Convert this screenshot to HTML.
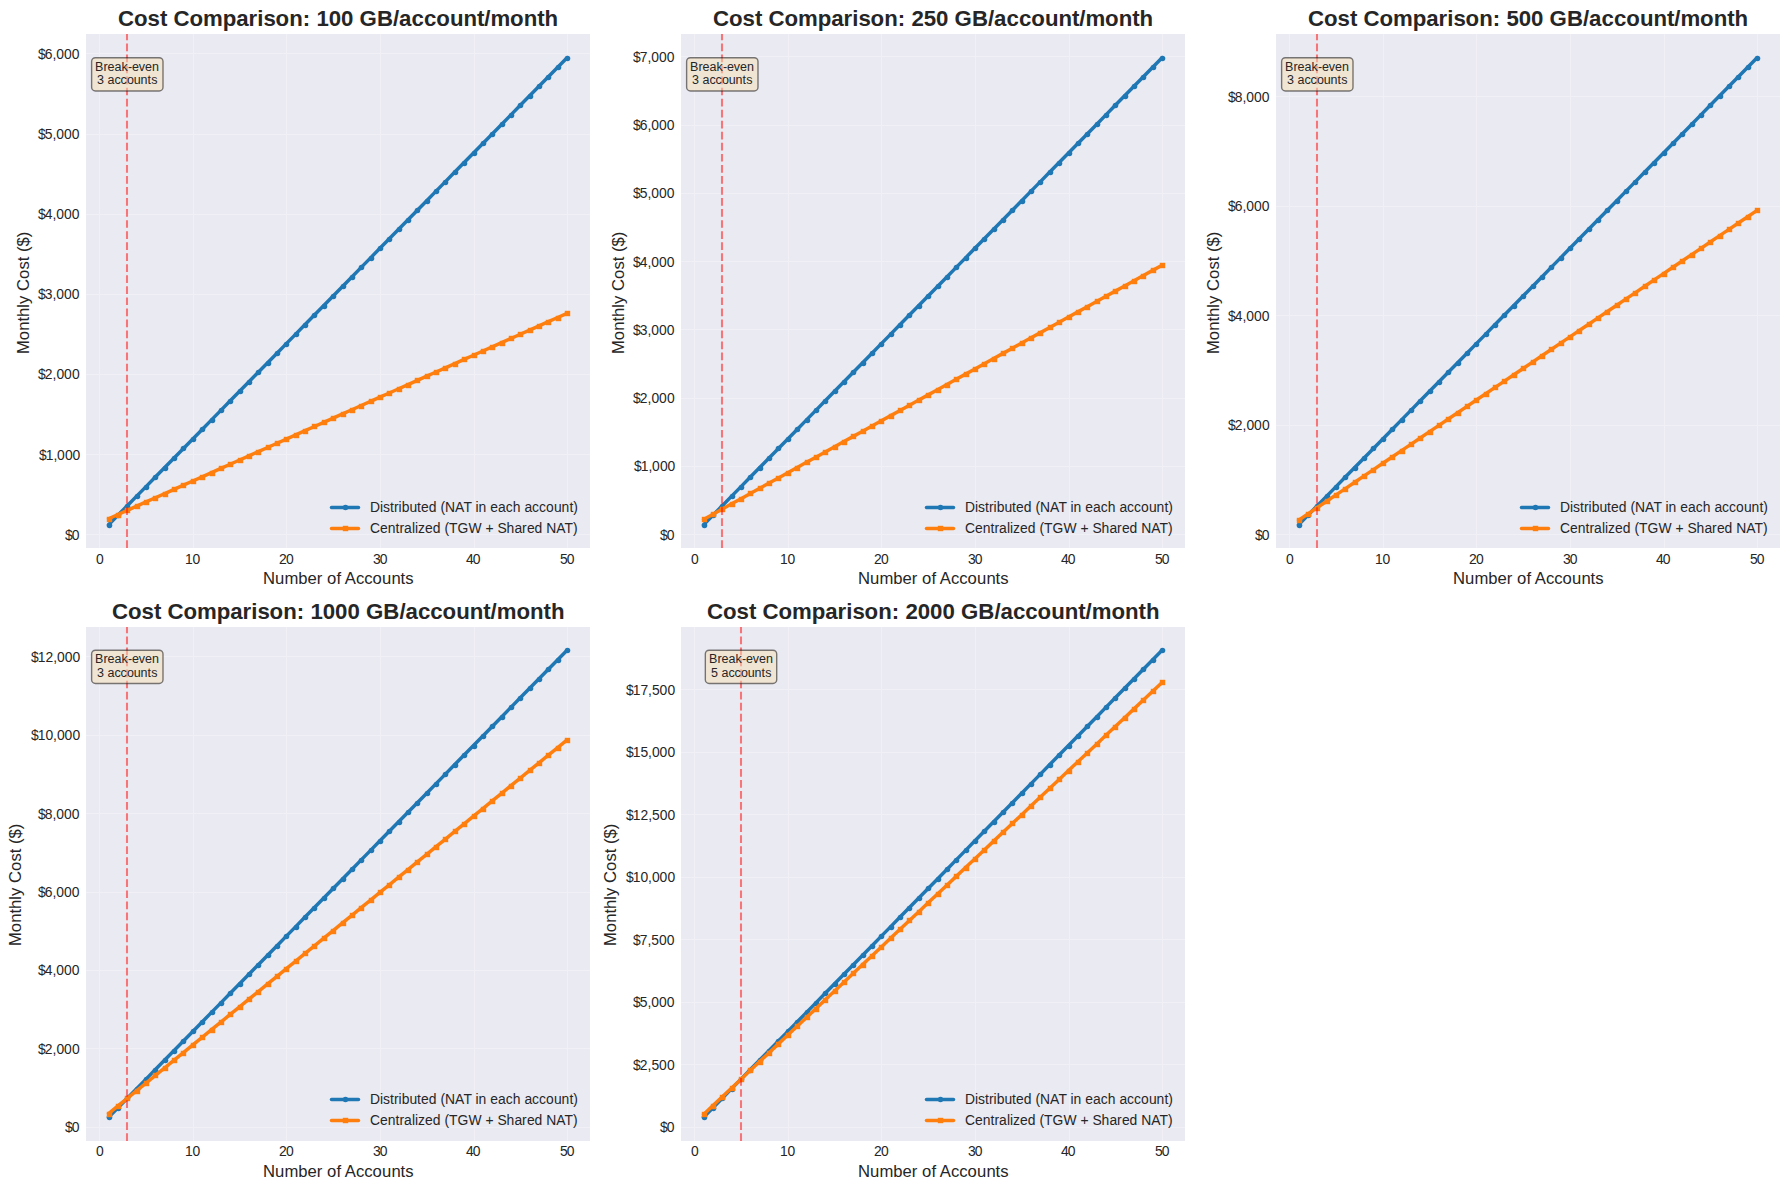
<!DOCTYPE html>
<html lang="en"><head><meta charset="utf-8"><title>Cost Comparison</title>
<style>
html,body{margin:0;padding:0;background:#fff}
body{width:1790px;height:1190px;overflow:hidden}
svg{display:block;font-family:"Liberation Sans",Arial,sans-serif}
svg text{white-space:pre}
</style></head><body>
<svg width="1790" height="1190" viewBox="0 0 1790 1190">
<rect width="1790" height="1190" fill="#fff"/>
<g>
<rect x="86" y="34" width="504" height="514" fill="#eaeaf2"/>
<path d="M99.5 34V548M193.5 34V548M286.5 34V548M380.5 34V548M474.5 34V548M567.5 34V548M86 534.5H590M86 454.5H590M86 374.5H590M86 294.5H590M86 214.5H590M86 134.5H590M86 53.5H590" stroke="#fff" stroke-opacity="0.3" stroke-width="1.11" fill="none"/>
<polyline points="108.59,524.73 117.95,515.2 127.3,505.67 136.66,496.14 146.02,486.6 155.38,477.07 164.73,467.54 174.09,458.01 183.45,448.48 192.8,438.95 202.16,429.42 211.52,419.88 220.87,410.35 230.23,400.82 239.59,391.29 248.94,381.76 258.3,372.23 267.66,362.69 277.01,353.16 286.37,343.63 295.73,334.1 305.08,324.57 314.44,315.04 323.8,305.51 333.15,295.97 342.51,286.44 351.87,276.91 361.23,267.38 370.58,257.85 379.94,248.32 389.3,238.78 398.65,229.25 408.01,219.72 417.37,210.19 426.72,200.66 436.08,191.13 445.44,181.6 454.79,172.06 464.15,162.53 473.51,153 482.86,143.47 492.22,133.94 501.58,124.41 510.93,114.87 520.29,105.34 529.65,95.81 539.01,86.28 548.36,76.75 557.72,67.22 567.08,57.69" fill="none" stroke="#1f77b4" stroke-width="3.47" stroke-linecap="round" stroke-linejoin="round"/>
<g fill="#1f77b4"><circle cx="109.5" cy="525.5" r="2.78"/><circle cx="118.5" cy="515.5" r="2.78"/><circle cx="127.5" cy="506.5" r="2.78"/><circle cx="137.5" cy="496.5" r="2.78"/><circle cx="146.5" cy="487.5" r="2.78"/><circle cx="155.5" cy="477.5" r="2.78"/><circle cx="165.5" cy="468.5" r="2.78"/><circle cx="174.5" cy="458.5" r="2.78"/><circle cx="183.5" cy="448.5" r="2.78"/><circle cx="193.5" cy="439.5" r="2.78"/><circle cx="202.5" cy="429.5" r="2.78"/><circle cx="212.5" cy="420.5" r="2.78"/><circle cx="221.5" cy="410.5" r="2.78"/><circle cx="230.5" cy="401.5" r="2.78"/><circle cx="240.5" cy="391.5" r="2.78"/><circle cx="249.5" cy="382.5" r="2.78"/><circle cx="258.5" cy="372.5" r="2.78"/><circle cx="268.5" cy="363.5" r="2.78"/><circle cx="277.5" cy="353.5" r="2.78"/><circle cx="286.5" cy="344.5" r="2.78"/><circle cx="296.5" cy="334.5" r="2.78"/><circle cx="305.5" cy="325.5" r="2.78"/><circle cx="314.5" cy="315.5" r="2.78"/><circle cx="324.5" cy="306.5" r="2.78"/><circle cx="333.5" cy="296.5" r="2.78"/><circle cx="343.5" cy="286.5" r="2.78"/><circle cx="352.5" cy="277.5" r="2.78"/><circle cx="361.5" cy="267.5" r="2.78"/><circle cx="371.5" cy="258.5" r="2.78"/><circle cx="380.5" cy="248.5" r="2.78"/><circle cx="389.5" cy="239.5" r="2.78"/><circle cx="399.5" cy="229.5" r="2.78"/><circle cx="408.5" cy="220.5" r="2.78"/><circle cx="417.5" cy="210.5" r="2.78"/><circle cx="427.5" cy="201.5" r="2.78"/><circle cx="436.5" cy="191.5" r="2.78"/><circle cx="445.5" cy="182.5" r="2.78"/><circle cx="455.5" cy="172.5" r="2.78"/><circle cx="464.5" cy="163.5" r="2.78"/><circle cx="474.5" cy="153.5" r="2.78"/><circle cx="483.5" cy="143.5" r="2.78"/><circle cx="492.5" cy="134.5" r="2.78"/><circle cx="502.5" cy="124.5" r="2.78"/><circle cx="511.5" cy="115.5" r="2.78"/><circle cx="520.5" cy="105.5" r="2.78"/><circle cx="530.5" cy="96.5" r="2.78"/><circle cx="539.5" cy="86.5" r="2.78"/><circle cx="548.5" cy="77.5" r="2.78"/><circle cx="558.5" cy="67.5" r="2.78"/><circle cx="567.5" cy="58.5" r="2.78"/></g>
<polyline points="108.59,518.72 117.95,514.53 127.3,510.34 136.66,506.14 146.02,501.95 155.38,497.76 164.73,493.57 174.09,489.38 183.45,485.18 192.8,480.99 202.16,476.8 211.52,472.61 220.87,468.42 230.23,464.23 239.59,460.03 248.94,455.84 258.3,451.65 267.66,447.46 277.01,443.27 286.37,439.07 295.73,434.88 305.08,430.69 314.44,426.5 323.8,422.31 333.15,418.11 342.51,413.92 351.87,409.73 361.23,405.54 370.58,401.35 379.94,397.15 389.3,392.96 398.65,388.77 408.01,384.58 417.37,380.39 426.72,376.2 436.08,372 445.44,367.81 454.79,363.62 464.15,359.43 473.51,355.24 482.86,351.04 492.22,346.85 501.58,342.66 510.93,338.47 520.29,334.28 529.65,330.08 539.01,325.89 548.36,321.7 557.72,317.51 567.08,313.32" fill="none" stroke="#ff7f0e" stroke-width="3.47" stroke-linecap="round" stroke-linejoin="round"/>
<g fill="#ff7f0e"><rect x="106.8" y="516.8" width="5.4" height="5.4"/><rect x="115.8" y="512.8" width="5.4" height="5.4"/><rect x="124.8" y="507.8" width="5.4" height="5.4"/><rect x="134.8" y="503.8" width="5.4" height="5.4"/><rect x="143.8" y="499.8" width="5.4" height="5.4"/><rect x="152.8" y="495.8" width="5.4" height="5.4"/><rect x="162.8" y="491.8" width="5.4" height="5.4"/><rect x="171.8" y="486.8" width="5.4" height="5.4"/><rect x="180.8" y="482.8" width="5.4" height="5.4"/><rect x="190.8" y="478.8" width="5.4" height="5.4"/><rect x="199.8" y="474.8" width="5.4" height="5.4"/><rect x="209.8" y="470.8" width="5.4" height="5.4"/><rect x="218.8" y="465.8" width="5.4" height="5.4"/><rect x="227.8" y="461.8" width="5.4" height="5.4"/><rect x="237.8" y="457.8" width="5.4" height="5.4"/><rect x="246.8" y="453.8" width="5.4" height="5.4"/><rect x="255.8" y="449.8" width="5.4" height="5.4"/><rect x="265.8" y="444.8" width="5.4" height="5.4"/><rect x="274.8" y="440.8" width="5.4" height="5.4"/><rect x="283.8" y="436.8" width="5.4" height="5.4"/><rect x="293.8" y="432.8" width="5.4" height="5.4"/><rect x="302.8" y="428.8" width="5.4" height="5.4"/><rect x="311.8" y="423.8" width="5.4" height="5.4"/><rect x="321.8" y="419.8" width="5.4" height="5.4"/><rect x="330.8" y="415.8" width="5.4" height="5.4"/><rect x="340.8" y="411.8" width="5.4" height="5.4"/><rect x="349.8" y="407.8" width="5.4" height="5.4"/><rect x="358.8" y="403.8" width="5.4" height="5.4"/><rect x="368.8" y="398.8" width="5.4" height="5.4"/><rect x="377.8" y="394.8" width="5.4" height="5.4"/><rect x="386.8" y="390.8" width="5.4" height="5.4"/><rect x="396.8" y="386.8" width="5.4" height="5.4"/><rect x="405.8" y="382.8" width="5.4" height="5.4"/><rect x="414.8" y="377.8" width="5.4" height="5.4"/><rect x="424.8" y="373.8" width="5.4" height="5.4"/><rect x="433.8" y="369.8" width="5.4" height="5.4"/><rect x="442.8" y="365.8" width="5.4" height="5.4"/><rect x="452.8" y="361.8" width="5.4" height="5.4"/><rect x="461.8" y="356.8" width="5.4" height="5.4"/><rect x="471.8" y="352.8" width="5.4" height="5.4"/><rect x="480.8" y="348.8" width="5.4" height="5.4"/><rect x="489.8" y="344.8" width="5.4" height="5.4"/><rect x="499.8" y="340.8" width="5.4" height="5.4"/><rect x="508.8" y="335.8" width="5.4" height="5.4"/><rect x="517.8" y="331.8" width="5.4" height="5.4"/><rect x="527.8" y="327.8" width="5.4" height="5.4"/><rect x="536.8" y="323.8" width="5.4" height="5.4"/><rect x="545.8" y="319.8" width="5.4" height="5.4"/><rect x="555.8" y="315.8" width="5.4" height="5.4"/><rect x="564.8" y="310.8" width="5.4" height="5.4"/></g>
<path d="M127 548V34" stroke="#f00" stroke-opacity="0.5" stroke-width="2.08" stroke-dasharray="7.71 3.33" fill="none"/>
<g fill="#262626">
<text x="96" y="563.94" font-size="13.89">0</text>
<text x="185 192.62" y="563.94" font-size="13.89">10</text>
<text x="279 285.88" y="563.94" font-size="13.89">20</text>
<text x="373 379.75" y="563.94" font-size="13.89">30</text>
<text x="466 472.75" y="563.94" font-size="13.89">40</text>
<text x="560 566.75" y="563.94" font-size="13.89">50</text>
<text x="65 71.75" y="539.76" font-size="13.89">$0</text>
<text x="39 45.75 53.38 57.12 64.88 72.62" y="459.61" font-size="13.89">$1,000</text>
<text x="38 44.75 52.62 56.38 64.12 71.88" y="379.46" font-size="13.89">$2,000</text>
<text x="38 44.75 52.5 56.25 64 71.75" y="299.31" font-size="13.89">$3,000</text>
<text x="38 44.75 52.5 56.25 64 71.75" y="219.16" font-size="13.89">$4,000</text>
<text x="38 44.75 52.5 56.25 64 71.75" y="139.01" font-size="13.89">$5,000</text>
<text x="38 44.75 52.5 56.25 64 71.75" y="58.86" font-size="13.89">$6,000</text>
<text x="263 275 284.38 298.25 307.5 316.75 322.38 327 336.38 341 344.75 355.88 364.25 372.62 382 391.38 400.62 405.25" y="583.5" font-size="16.67">Number of Accounts</text>
<text transform="translate(28.63 354) rotate(-90)" x="0 13.88 23.25 32.5 37.12 46.38 50.12 58.5 63.12 75.12 84.5 92.75 97.38 102 107.62 116.88" font-size="16.67">Monthly Cost ($)</text>
<text x="118 134 147.62 159.88 167.25 173.38 189.38 203 222.75 236.25 248.62 257.25 263.38 275.62 289.25 302.75 310.25 316.38 328.75 341.12 353.5 359.62 376.88 393 399.12 411.5 423.88 436.25 449.88 463.38 476.88 484.25 490.38 510.12 523.75 537.25 544.62" y="26" font-size="22.22" font-weight="bold">Cost Comparison: 100 GB/account/month</text>
<text x="370 380 383.12 390 393.88 398.62 401.75 409.38 417.12 421 428.75 436.5 440.38 445.12 455.12 463.38 471.62 475.5 478.62 486.38 490.25 498 505.75 512.75 520.5 524.38 532.12 539.12 546.12 553.88 561.62 569.38 573.25" y="511.64" font-size="13.89">Distributed (NAT in each account)</text>
<text x="370 380 387.75 395.5 399.38 404.12 411.88 415 418.12 425 432.75 440.5 444.38 449.12 457.62 468.5 481.62 485.5 493.5 497.38 506.62 514.38 522.12 526.88 534.62 542.38 546.25 556.25 564.5 573" y="532.58" font-size="13.89">Centralized (TGW + Shared NAT)</text>
</g>
<path d="M331.5 507.5H358.5" stroke="#1f77b4" stroke-width="3.47" stroke-linecap="round" fill="none"/>
<circle cx="345.5" cy="507.5" r="2.78" fill="#1f77b4"/>
<path d="M331.5 528.5H358.5" stroke="#ff7f0e" stroke-width="3.47" stroke-linecap="round" fill="none"/>
<rect x="342.8" y="525.8" width="5.4" height="5.4" fill="#ff7f0e"/>
<rect x="91.62" y="57.68" width="71.38" height="33.3" rx="3.75" ry="3.75" fill="#f5deb3" fill-opacity="0.5" stroke="#000" stroke-opacity="0.5" stroke-width="1.39"/>
<text x="95 103.38 107.62 114.5 121.5 127.88 131.88 138.75 145 151.88" y="71" font-size="12.5" fill="#262626">Break-even</text>
<text x="97 103.88 107.38 114.38 120.62 126.88 133.75 140.62 147.62 151.25" y="84" font-size="12.5" fill="#262626">3 accounts</text>
</g>
<g>
<rect x="681" y="34" width="504" height="514" fill="#eaeaf2"/>
<path d="M694.5 34V548M788.5 34V548M881.5 34V548M975.5 34V548M1069.5 34V548M1162.5 34V548M681 534.5H1185M681 466.5H1185M681 398.5H1185M681 329.5H1185M681 261.5H1185M681 193.5H1185M681 125.5H1185M681 56.5H1185" stroke="#fff" stroke-opacity="0.3" stroke-width="1.11" fill="none"/>
<polyline points="703.59,524.73 712.95,515.2 722.3,505.67 731.66,496.14 741.02,486.6 750.38,477.07 759.73,467.54 769.09,458.01 778.45,448.48 787.8,438.95 797.16,429.42 806.52,419.88 815.87,410.35 825.23,400.82 834.59,391.29 843.94,381.76 853.3,372.23 862.66,362.69 872.01,353.16 881.37,343.63 890.73,334.1 900.08,324.57 909.44,315.04 918.8,305.51 928.15,295.97 937.51,286.44 946.87,276.91 956.23,267.38 965.58,257.85 974.94,248.32 984.3,238.78 993.65,229.25 1003.01,219.72 1012.37,210.19 1021.72,200.66 1031.08,191.13 1040.44,181.6 1049.79,172.06 1059.15,162.53 1068.51,153 1077.86,143.47 1087.22,133.94 1096.58,124.41 1105.93,114.87 1115.29,105.34 1124.65,95.81 1134.01,86.28 1143.36,76.75 1152.72,67.22 1162.08,57.69" fill="none" stroke="#1f77b4" stroke-width="3.47" stroke-linecap="round" stroke-linejoin="round"/>
<g fill="#1f77b4"><circle cx="704.5" cy="525.5" r="2.78"/><circle cx="713.5" cy="515.5" r="2.78"/><circle cx="722.5" cy="506.5" r="2.78"/><circle cx="732.5" cy="496.5" r="2.78"/><circle cx="741.5" cy="487.5" r="2.78"/><circle cx="750.5" cy="477.5" r="2.78"/><circle cx="760.5" cy="468.5" r="2.78"/><circle cx="769.5" cy="458.5" r="2.78"/><circle cx="778.5" cy="448.5" r="2.78"/><circle cx="788.5" cy="439.5" r="2.78"/><circle cx="797.5" cy="429.5" r="2.78"/><circle cx="807.5" cy="420.5" r="2.78"/><circle cx="816.5" cy="410.5" r="2.78"/><circle cx="825.5" cy="401.5" r="2.78"/><circle cx="835.5" cy="391.5" r="2.78"/><circle cx="844.5" cy="382.5" r="2.78"/><circle cx="853.5" cy="372.5" r="2.78"/><circle cx="863.5" cy="363.5" r="2.78"/><circle cx="872.5" cy="353.5" r="2.78"/><circle cx="881.5" cy="344.5" r="2.78"/><circle cx="891.5" cy="334.5" r="2.78"/><circle cx="900.5" cy="325.5" r="2.78"/><circle cx="909.5" cy="315.5" r="2.78"/><circle cx="919.5" cy="306.5" r="2.78"/><circle cx="928.5" cy="296.5" r="2.78"/><circle cx="938.5" cy="286.5" r="2.78"/><circle cx="947.5" cy="277.5" r="2.78"/><circle cx="956.5" cy="267.5" r="2.78"/><circle cx="966.5" cy="258.5" r="2.78"/><circle cx="975.5" cy="248.5" r="2.78"/><circle cx="984.5" cy="239.5" r="2.78"/><circle cx="994.5" cy="229.5" r="2.78"/><circle cx="1003.5" cy="220.5" r="2.78"/><circle cx="1012.5" cy="210.5" r="2.78"/><circle cx="1022.5" cy="201.5" r="2.78"/><circle cx="1031.5" cy="191.5" r="2.78"/><circle cx="1040.5" cy="182.5" r="2.78"/><circle cx="1050.5" cy="172.5" r="2.78"/><circle cx="1059.5" cy="163.5" r="2.78"/><circle cx="1069.5" cy="153.5" r="2.78"/><circle cx="1078.5" cy="143.5" r="2.78"/><circle cx="1087.5" cy="134.5" r="2.78"/><circle cx="1097.5" cy="124.5" r="2.78"/><circle cx="1106.5" cy="115.5" r="2.78"/><circle cx="1115.5" cy="105.5" r="2.78"/><circle cx="1125.5" cy="96.5" r="2.78"/><circle cx="1134.5" cy="86.5" r="2.78"/><circle cx="1143.5" cy="77.5" r="2.78"/><circle cx="1153.5" cy="67.5" r="2.78"/><circle cx="1162.5" cy="58.5" r="2.78"/></g>
<polyline points="703.59,519.41 712.95,514.22 722.3,509.03 731.66,503.84 741.02,498.65 750.38,493.46 759.73,488.28 769.09,483.09 778.45,477.9 787.8,472.71 797.16,467.52 806.52,462.33 815.87,457.15 825.23,451.96 834.59,446.77 843.94,441.58 853.3,436.39 862.66,431.2 872.01,426.02 881.37,420.83 890.73,415.64 900.08,410.45 909.44,405.26 918.8,400.07 928.15,394.89 937.51,389.7 946.87,384.51 956.23,379.32 965.58,374.13 974.94,368.94 984.3,363.76 993.65,358.57 1003.01,353.38 1012.37,348.19 1021.72,343 1031.08,337.81 1040.44,332.63 1049.79,327.44 1059.15,322.25 1068.51,317.06 1077.86,311.87 1087.22,306.68 1096.58,301.5 1105.93,296.31 1115.29,291.12 1124.65,285.93 1134.01,280.74 1143.36,275.55 1152.72,270.37 1162.08,265.18" fill="none" stroke="#ff7f0e" stroke-width="3.47" stroke-linecap="round" stroke-linejoin="round"/>
<g fill="#ff7f0e"><rect x="701.8" y="516.8" width="5.4" height="5.4"/><rect x="710.8" y="511.8" width="5.4" height="5.4"/><rect x="719.8" y="506.8" width="5.4" height="5.4"/><rect x="729.8" y="501.8" width="5.4" height="5.4"/><rect x="738.8" y="496.8" width="5.4" height="5.4"/><rect x="747.8" y="490.8" width="5.4" height="5.4"/><rect x="757.8" y="485.8" width="5.4" height="5.4"/><rect x="766.8" y="480.8" width="5.4" height="5.4"/><rect x="775.8" y="475.8" width="5.4" height="5.4"/><rect x="785.8" y="470.8" width="5.4" height="5.4"/><rect x="794.8" y="465.8" width="5.4" height="5.4"/><rect x="804.8" y="459.8" width="5.4" height="5.4"/><rect x="813.8" y="454.8" width="5.4" height="5.4"/><rect x="822.8" y="449.8" width="5.4" height="5.4"/><rect x="832.8" y="444.8" width="5.4" height="5.4"/><rect x="841.8" y="439.8" width="5.4" height="5.4"/><rect x="850.8" y="433.8" width="5.4" height="5.4"/><rect x="860.8" y="428.8" width="5.4" height="5.4"/><rect x="869.8" y="423.8" width="5.4" height="5.4"/><rect x="878.8" y="418.8" width="5.4" height="5.4"/><rect x="888.8" y="413.8" width="5.4" height="5.4"/><rect x="897.8" y="407.8" width="5.4" height="5.4"/><rect x="906.8" y="402.8" width="5.4" height="5.4"/><rect x="916.8" y="397.8" width="5.4" height="5.4"/><rect x="925.8" y="392.8" width="5.4" height="5.4"/><rect x="935.8" y="387.8" width="5.4" height="5.4"/><rect x="944.8" y="382.8" width="5.4" height="5.4"/><rect x="953.8" y="376.8" width="5.4" height="5.4"/><rect x="963.8" y="371.8" width="5.4" height="5.4"/><rect x="972.8" y="366.8" width="5.4" height="5.4"/><rect x="981.8" y="361.8" width="5.4" height="5.4"/><rect x="991.8" y="356.8" width="5.4" height="5.4"/><rect x="1000.8" y="350.8" width="5.4" height="5.4"/><rect x="1009.8" y="345.8" width="5.4" height="5.4"/><rect x="1019.8" y="340.8" width="5.4" height="5.4"/><rect x="1028.8" y="335.8" width="5.4" height="5.4"/><rect x="1037.8" y="330.8" width="5.4" height="5.4"/><rect x="1047.8" y="324.8" width="5.4" height="5.4"/><rect x="1056.8" y="319.8" width="5.4" height="5.4"/><rect x="1066.8" y="314.8" width="5.4" height="5.4"/><rect x="1075.8" y="309.8" width="5.4" height="5.4"/><rect x="1084.8" y="304.8" width="5.4" height="5.4"/><rect x="1094.8" y="298.8" width="5.4" height="5.4"/><rect x="1103.8" y="293.8" width="5.4" height="5.4"/><rect x="1112.8" y="288.8" width="5.4" height="5.4"/><rect x="1122.8" y="283.8" width="5.4" height="5.4"/><rect x="1131.8" y="278.8" width="5.4" height="5.4"/><rect x="1140.8" y="273.8" width="5.4" height="5.4"/><rect x="1150.8" y="267.8" width="5.4" height="5.4"/><rect x="1159.8" y="262.8" width="5.4" height="5.4"/></g>
<path d="M722 548V34" stroke="#f00" stroke-opacity="0.5" stroke-width="2.08" stroke-dasharray="7.71 3.33" fill="none"/>
<g fill="#262626">
<text x="691" y="563.94" font-size="13.89">0</text>
<text x="780 787.62" y="563.94" font-size="13.89">10</text>
<text x="874 880.88" y="563.94" font-size="13.89">20</text>
<text x="968 974.75" y="563.94" font-size="13.89">30</text>
<text x="1061 1067.75" y="563.94" font-size="13.89">40</text>
<text x="1155 1161.75" y="563.94" font-size="13.89">50</text>
<text x="660 666.75" y="539.76" font-size="13.89">$0</text>
<text x="634 640.75 648.38 652.12 659.88 667.62" y="471.49" font-size="13.89">$1,000</text>
<text x="633 639.75 647.62 651.38 659.12 666.88" y="403.23" font-size="13.89">$2,000</text>
<text x="633 639.75 647.5 651.25 659 666.75" y="334.96" font-size="13.89">$3,000</text>
<text x="633 639.75 647.5 651.25 659 666.75" y="266.69" font-size="13.89">$4,000</text>
<text x="633 639.75 647.5 651.25 659 666.75" y="198.42" font-size="13.89">$5,000</text>
<text x="633 639.75 647.5 651.25 659 666.75" y="130.16" font-size="13.89">$6,000</text>
<text x="633 639.75 647.5 651.25 659 666.75" y="61.89" font-size="13.89">$7,000</text>
<text x="858 870 879.38 893.25 902.5 911.75 917.38 922 931.38 936 939.75 950.88 959.25 967.62 977 986.38 995.62 1000.25" y="583.5" font-size="16.67">Number of Accounts</text>
<text transform="translate(623.63 354) rotate(-90)" x="0 13.88 23.25 32.5 37.12 46.38 50.12 58.5 63.12 75.12 84.5 92.75 97.38 102 107.62 116.88" font-size="16.67">Monthly Cost ($)</text>
<text x="713 729 742.62 754.88 762.25 768.38 784.38 798 817.75 831.25 843.62 852.25 858.38 870.62 884.25 897.75 905.25 911.38 923.75 936.12 948.5 954.62 971.88 988 994.12 1006.5 1018.88 1031.25 1044.88 1058.38 1071.88 1079.25 1085.38 1105.12 1118.75 1132.25 1139.62" y="26" font-size="22.22" font-weight="bold">Cost Comparison: 250 GB/account/month</text>
<text x="965 975 978.12 985 988.88 993.62 996.75 1004.38 1012.12 1016 1023.75 1031.5 1035.38 1040.12 1050.12 1058.38 1066.62 1070.5 1073.62 1081.38 1085.25 1093 1100.75 1107.75 1115.5 1119.38 1127.12 1134.12 1141.12 1148.88 1156.62 1164.38 1168.25" y="511.64" font-size="13.89">Distributed (NAT in each account)</text>
<text x="965 975 982.75 990.5 994.38 999.12 1006.88 1010 1013.12 1020 1027.75 1035.5 1039.38 1044.12 1052.62 1063.5 1076.62 1080.5 1088.5 1092.38 1101.62 1109.38 1117.12 1121.88 1129.62 1137.38 1141.25 1151.25 1159.5 1168" y="532.58" font-size="13.89">Centralized (TGW + Shared NAT)</text>
</g>
<path d="M926.5 507.5H953.5" stroke="#1f77b4" stroke-width="3.47" stroke-linecap="round" fill="none"/>
<circle cx="940.5" cy="507.5" r="2.78" fill="#1f77b4"/>
<path d="M926.5 528.5H953.5" stroke="#ff7f0e" stroke-width="3.47" stroke-linecap="round" fill="none"/>
<rect x="937.8" y="525.8" width="5.4" height="5.4" fill="#ff7f0e"/>
<rect x="686.62" y="57.68" width="71.38" height="33.3" rx="3.75" ry="3.75" fill="#f5deb3" fill-opacity="0.5" stroke="#000" stroke-opacity="0.5" stroke-width="1.39"/>
<text x="690 698.38 702.62 709.5 716.5 722.88 726.88 733.75 740 746.88" y="71" font-size="12.5" fill="#262626">Break-even</text>
<text x="692 698.88 702.38 709.38 715.62 721.88 728.75 735.62 742.62 746.25" y="84" font-size="12.5" fill="#262626">3 accounts</text>
</g>
<g>
<rect x="1276" y="34" width="504" height="514" fill="#eaeaf2"/>
<path d="M1289.5 34V548M1383.5 34V548M1476.5 34V548M1570.5 34V548M1664.5 34V548M1757.5 34V548M1276 534.5H1780M1276 425.5H1780M1276 315.5H1780M1276 206.5H1780M1276 96.5H1780" stroke="#fff" stroke-opacity="0.3" stroke-width="1.11" fill="none"/>
<polyline points="1298.59,524.73 1307.95,515.2 1317.3,505.67 1326.66,496.14 1336.02,486.6 1345.38,477.07 1354.73,467.54 1364.09,458.01 1373.45,448.48 1382.8,438.95 1392.16,429.42 1401.52,419.88 1410.87,410.35 1420.23,400.82 1429.59,391.29 1438.94,381.76 1448.3,372.23 1457.66,362.69 1467.01,353.16 1476.37,343.63 1485.73,334.1 1495.08,324.57 1504.44,315.04 1513.8,305.51 1523.15,295.97 1532.51,286.44 1541.87,276.91 1551.23,267.38 1560.58,257.85 1569.94,248.32 1579.3,238.78 1588.65,229.25 1598.01,219.72 1607.37,210.19 1616.72,200.66 1626.08,191.13 1635.44,181.6 1644.79,172.06 1654.15,162.53 1663.51,153 1672.86,143.47 1682.22,133.94 1691.58,124.41 1700.93,114.87 1710.29,105.34 1719.65,95.81 1729.01,86.28 1738.36,76.75 1747.72,67.22 1757.08,57.69" fill="none" stroke="#1f77b4" stroke-width="3.47" stroke-linecap="round" stroke-linejoin="round"/>
<g fill="#1f77b4"><circle cx="1299.5" cy="525.5" r="2.78"/><circle cx="1308.5" cy="515.5" r="2.78"/><circle cx="1317.5" cy="506.5" r="2.78"/><circle cx="1327.5" cy="496.5" r="2.78"/><circle cx="1336.5" cy="487.5" r="2.78"/><circle cx="1345.5" cy="477.5" r="2.78"/><circle cx="1355.5" cy="468.5" r="2.78"/><circle cx="1364.5" cy="458.5" r="2.78"/><circle cx="1373.5" cy="448.5" r="2.78"/><circle cx="1383.5" cy="439.5" r="2.78"/><circle cx="1392.5" cy="429.5" r="2.78"/><circle cx="1402.5" cy="420.5" r="2.78"/><circle cx="1411.5" cy="410.5" r="2.78"/><circle cx="1420.5" cy="401.5" r="2.78"/><circle cx="1430.5" cy="391.5" r="2.78"/><circle cx="1439.5" cy="382.5" r="2.78"/><circle cx="1448.5" cy="372.5" r="2.78"/><circle cx="1458.5" cy="363.5" r="2.78"/><circle cx="1467.5" cy="353.5" r="2.78"/><circle cx="1476.5" cy="344.5" r="2.78"/><circle cx="1486.5" cy="334.5" r="2.78"/><circle cx="1495.5" cy="325.5" r="2.78"/><circle cx="1504.5" cy="315.5" r="2.78"/><circle cx="1514.5" cy="306.5" r="2.78"/><circle cx="1523.5" cy="296.5" r="2.78"/><circle cx="1533.5" cy="286.5" r="2.78"/><circle cx="1542.5" cy="277.5" r="2.78"/><circle cx="1551.5" cy="267.5" r="2.78"/><circle cx="1561.5" cy="258.5" r="2.78"/><circle cx="1570.5" cy="248.5" r="2.78"/><circle cx="1579.5" cy="239.5" r="2.78"/><circle cx="1589.5" cy="229.5" r="2.78"/><circle cx="1598.5" cy="220.5" r="2.78"/><circle cx="1607.5" cy="210.5" r="2.78"/><circle cx="1617.5" cy="201.5" r="2.78"/><circle cx="1626.5" cy="191.5" r="2.78"/><circle cx="1635.5" cy="182.5" r="2.78"/><circle cx="1645.5" cy="172.5" r="2.78"/><circle cx="1654.5" cy="163.5" r="2.78"/><circle cx="1664.5" cy="153.5" r="2.78"/><circle cx="1673.5" cy="143.5" r="2.78"/><circle cx="1682.5" cy="134.5" r="2.78"/><circle cx="1692.5" cy="124.5" r="2.78"/><circle cx="1701.5" cy="115.5" r="2.78"/><circle cx="1710.5" cy="105.5" r="2.78"/><circle cx="1720.5" cy="96.5" r="2.78"/><circle cx="1729.5" cy="86.5" r="2.78"/><circle cx="1738.5" cy="77.5" r="2.78"/><circle cx="1748.5" cy="67.5" r="2.78"/><circle cx="1757.5" cy="58.5" r="2.78"/></g>
<polyline points="1298.59,520.19 1307.95,513.86 1317.3,507.54 1326.66,501.22 1336.02,494.9 1345.38,488.57 1354.73,482.25 1364.09,475.93 1373.45,469.61 1382.8,463.28 1392.16,456.96 1401.52,450.64 1410.87,444.32 1420.23,437.99 1429.59,431.67 1438.94,425.35 1448.3,419.03 1457.66,412.7 1467.01,406.38 1476.37,400.06 1485.73,393.74 1495.08,387.41 1504.44,381.09 1513.8,374.77 1523.15,368.44 1532.51,362.12 1541.87,355.8 1551.23,349.48 1560.58,343.15 1569.94,336.83 1579.3,330.51 1588.65,324.19 1598.01,317.86 1607.37,311.54 1616.72,305.22 1626.08,298.9 1635.44,292.57 1644.79,286.25 1654.15,279.93 1663.51,273.61 1672.86,267.28 1682.22,260.96 1691.58,254.64 1700.93,248.32 1710.29,241.99 1719.65,235.67 1729.01,229.35 1738.36,223.02 1747.72,216.7 1757.08,210.38" fill="none" stroke="#ff7f0e" stroke-width="3.47" stroke-linecap="round" stroke-linejoin="round"/>
<g fill="#ff7f0e"><rect x="1296.8" y="517.8" width="5.4" height="5.4"/><rect x="1305.8" y="511.8" width="5.4" height="5.4"/><rect x="1314.8" y="505.8" width="5.4" height="5.4"/><rect x="1324.8" y="498.8" width="5.4" height="5.4"/><rect x="1333.8" y="492.8" width="5.4" height="5.4"/><rect x="1342.8" y="486.8" width="5.4" height="5.4"/><rect x="1352.8" y="479.8" width="5.4" height="5.4"/><rect x="1361.8" y="473.8" width="5.4" height="5.4"/><rect x="1370.8" y="467.8" width="5.4" height="5.4"/><rect x="1380.8" y="460.8" width="5.4" height="5.4"/><rect x="1389.8" y="454.8" width="5.4" height="5.4"/><rect x="1399.8" y="448.8" width="5.4" height="5.4"/><rect x="1408.8" y="441.8" width="5.4" height="5.4"/><rect x="1417.8" y="435.8" width="5.4" height="5.4"/><rect x="1427.8" y="429.8" width="5.4" height="5.4"/><rect x="1436.8" y="422.8" width="5.4" height="5.4"/><rect x="1445.8" y="416.8" width="5.4" height="5.4"/><rect x="1455.8" y="410.8" width="5.4" height="5.4"/><rect x="1464.8" y="403.8" width="5.4" height="5.4"/><rect x="1473.8" y="397.8" width="5.4" height="5.4"/><rect x="1483.8" y="391.8" width="5.4" height="5.4"/><rect x="1492.8" y="384.8" width="5.4" height="5.4"/><rect x="1501.8" y="378.8" width="5.4" height="5.4"/><rect x="1511.8" y="372.8" width="5.4" height="5.4"/><rect x="1520.8" y="365.8" width="5.4" height="5.4"/><rect x="1530.8" y="359.8" width="5.4" height="5.4"/><rect x="1539.8" y="353.8" width="5.4" height="5.4"/><rect x="1548.8" y="346.8" width="5.4" height="5.4"/><rect x="1558.8" y="340.8" width="5.4" height="5.4"/><rect x="1567.8" y="334.8" width="5.4" height="5.4"/><rect x="1576.8" y="328.8" width="5.4" height="5.4"/><rect x="1586.8" y="321.8" width="5.4" height="5.4"/><rect x="1595.8" y="315.8" width="5.4" height="5.4"/><rect x="1604.8" y="309.8" width="5.4" height="5.4"/><rect x="1614.8" y="302.8" width="5.4" height="5.4"/><rect x="1623.8" y="296.8" width="5.4" height="5.4"/><rect x="1632.8" y="290.8" width="5.4" height="5.4"/><rect x="1642.8" y="283.8" width="5.4" height="5.4"/><rect x="1651.8" y="277.8" width="5.4" height="5.4"/><rect x="1661.8" y="271.8" width="5.4" height="5.4"/><rect x="1670.8" y="264.8" width="5.4" height="5.4"/><rect x="1679.8" y="258.8" width="5.4" height="5.4"/><rect x="1689.8" y="252.8" width="5.4" height="5.4"/><rect x="1698.8" y="245.8" width="5.4" height="5.4"/><rect x="1707.8" y="239.8" width="5.4" height="5.4"/><rect x="1717.8" y="233.8" width="5.4" height="5.4"/><rect x="1726.8" y="226.8" width="5.4" height="5.4"/><rect x="1735.8" y="220.8" width="5.4" height="5.4"/><rect x="1745.8" y="214.8" width="5.4" height="5.4"/><rect x="1754.8" y="207.8" width="5.4" height="5.4"/></g>
<path d="M1317 548V34" stroke="#f00" stroke-opacity="0.5" stroke-width="2.08" stroke-dasharray="7.71 3.33" fill="none"/>
<g fill="#262626">
<text x="1286" y="563.94" font-size="13.89">0</text>
<text x="1375 1382.62" y="563.94" font-size="13.89">10</text>
<text x="1469 1475.88" y="563.94" font-size="13.89">20</text>
<text x="1563 1569.75" y="563.94" font-size="13.89">30</text>
<text x="1656 1662.75" y="563.94" font-size="13.89">40</text>
<text x="1750 1756.75" y="563.94" font-size="13.89">50</text>
<text x="1255 1261.75" y="539.76" font-size="13.89">$0</text>
<text x="1228 1234.75 1242.62 1246.38 1254.12 1261.88" y="430.28" font-size="13.89">$2,000</text>
<text x="1228 1234.75 1242.5 1246.25 1254 1261.75" y="320.8" font-size="13.89">$4,000</text>
<text x="1228 1234.75 1242.5 1246.25 1254 1261.75" y="211.32" font-size="13.89">$6,000</text>
<text x="1228 1234.75 1242.5 1246.25 1254 1261.75" y="101.83" font-size="13.89">$8,000</text>
<text x="1453 1465 1474.38 1488.25 1497.5 1506.75 1512.38 1517 1526.38 1531 1534.75 1545.88 1554.25 1562.62 1572 1581.38 1590.62 1595.25" y="583.5" font-size="16.67">Number of Accounts</text>
<text transform="translate(1218.63 354) rotate(-90)" x="0 13.88 23.25 32.5 37.12 46.38 50.12 58.5 63.12 75.12 84.5 92.75 97.38 102 107.62 116.88" font-size="16.67">Monthly Cost ($)</text>
<text x="1308 1324 1337.62 1349.88 1357.25 1363.38 1379.38 1393 1412.75 1426.25 1438.62 1447.25 1453.38 1465.62 1479.25 1492.75 1500.25 1506.38 1518.75 1531.12 1543.5 1549.62 1566.88 1583 1589.12 1601.5 1613.88 1626.25 1639.88 1653.38 1666.88 1674.25 1680.38 1700.12 1713.75 1727.25 1734.62" y="26" font-size="22.22" font-weight="bold">Cost Comparison: 500 GB/account/month</text>
<text x="1560 1570 1573.12 1580 1583.88 1588.62 1591.75 1599.38 1607.12 1611 1618.75 1626.5 1630.38 1635.12 1645.12 1653.38 1661.62 1665.5 1668.62 1676.38 1680.25 1688 1695.75 1702.75 1710.5 1714.38 1722.12 1729.12 1736.12 1743.88 1751.62 1759.38 1763.25" y="511.64" font-size="13.89">Distributed (NAT in each account)</text>
<text x="1560 1570 1577.75 1585.5 1589.38 1594.12 1601.88 1605 1608.12 1615 1622.75 1630.5 1634.38 1639.12 1647.62 1658.5 1671.62 1675.5 1683.5 1687.38 1696.62 1704.38 1712.12 1716.88 1724.62 1732.38 1736.25 1746.25 1754.5 1763" y="532.58" font-size="13.89">Centralized (TGW + Shared NAT)</text>
</g>
<path d="M1521.5 507.5H1548.5" stroke="#1f77b4" stroke-width="3.47" stroke-linecap="round" fill="none"/>
<circle cx="1535.5" cy="507.5" r="2.78" fill="#1f77b4"/>
<path d="M1521.5 528.5H1548.5" stroke="#ff7f0e" stroke-width="3.47" stroke-linecap="round" fill="none"/>
<rect x="1532.8" y="525.8" width="5.4" height="5.4" fill="#ff7f0e"/>
<rect x="1281.62" y="57.68" width="71.38" height="33.3" rx="3.75" ry="3.75" fill="#f5deb3" fill-opacity="0.5" stroke="#000" stroke-opacity="0.5" stroke-width="1.39"/>
<text x="1285 1293.38 1297.62 1304.5 1311.5 1317.88 1321.88 1328.75 1335 1341.88" y="71" font-size="12.5" fill="#262626">Break-even</text>
<text x="1287 1293.88 1297.38 1304.38 1310.62 1316.88 1323.75 1330.62 1337.62 1341.25" y="84" font-size="12.5" fill="#262626">3 accounts</text>
</g>
<g>
<rect x="86" y="627" width="504" height="514" fill="#eaeaf2"/>
<path d="M99.5 627V1141M193.5 627V1141M286.5 627V1141M380.5 627V1141M474.5 627V1141M567.5 627V1141M86 1127.5H590M86 1048.5H590M86 970.5H590M86 892.5H590M86 813.5H590M86 735.5H590M86 656.5H590" stroke="#fff" stroke-opacity="0.3" stroke-width="1.11" fill="none"/>
<polyline points="108.59,1117.23 117.95,1107.7 127.3,1098.17 136.66,1088.64 146.02,1079.1 155.38,1069.57 164.73,1060.04 174.09,1050.51 183.45,1040.98 192.8,1031.45 202.16,1021.92 211.52,1012.38 220.87,1002.85 230.23,993.32 239.59,983.79 248.94,974.26 258.3,964.73 267.66,955.19 277.01,945.66 286.37,936.13 295.73,926.6 305.08,917.07 314.44,907.54 323.8,898.01 333.15,888.47 342.51,878.94 351.87,869.41 361.23,859.88 370.58,850.35 379.94,840.82 389.3,831.28 398.65,821.75 408.01,812.22 417.37,802.69 426.72,793.16 436.08,783.63 445.44,774.1 454.79,764.56 464.15,755.03 473.51,745.5 482.86,735.97 492.22,726.44 501.58,716.91 510.93,707.37 520.29,697.84 529.65,688.31 539.01,678.78 548.36,669.25 557.72,659.72 567.08,650.19" fill="none" stroke="#1f77b4" stroke-width="3.47" stroke-linecap="round" stroke-linejoin="round"/>
<g fill="#1f77b4"><circle cx="109.5" cy="1117.5" r="2.78"/><circle cx="118.5" cy="1108.5" r="2.78"/><circle cx="127.5" cy="1098.5" r="2.78"/><circle cx="137.5" cy="1089.5" r="2.78"/><circle cx="146.5" cy="1079.5" r="2.78"/><circle cx="155.5" cy="1070.5" r="2.78"/><circle cx="165.5" cy="1060.5" r="2.78"/><circle cx="174.5" cy="1051.5" r="2.78"/><circle cx="183.5" cy="1041.5" r="2.78"/><circle cx="193.5" cy="1031.5" r="2.78"/><circle cx="202.5" cy="1022.5" r="2.78"/><circle cx="212.5" cy="1012.5" r="2.78"/><circle cx="221.5" cy="1003.5" r="2.78"/><circle cx="230.5" cy="993.5" r="2.78"/><circle cx="240.5" cy="984.5" r="2.78"/><circle cx="249.5" cy="974.5" r="2.78"/><circle cx="258.5" cy="965.5" r="2.78"/><circle cx="268.5" cy="955.5" r="2.78"/><circle cx="277.5" cy="946.5" r="2.78"/><circle cx="286.5" cy="936.5" r="2.78"/><circle cx="296.5" cy="927.5" r="2.78"/><circle cx="305.5" cy="917.5" r="2.78"/><circle cx="314.5" cy="908.5" r="2.78"/><circle cx="324.5" cy="898.5" r="2.78"/><circle cx="333.5" cy="888.5" r="2.78"/><circle cx="343.5" cy="879.5" r="2.78"/><circle cx="352.5" cy="869.5" r="2.78"/><circle cx="361.5" cy="860.5" r="2.78"/><circle cx="371.5" cy="850.5" r="2.78"/><circle cx="380.5" cy="841.5" r="2.78"/><circle cx="389.5" cy="831.5" r="2.78"/><circle cx="399.5" cy="822.5" r="2.78"/><circle cx="408.5" cy="812.5" r="2.78"/><circle cx="417.5" cy="803.5" r="2.78"/><circle cx="427.5" cy="793.5" r="2.78"/><circle cx="436.5" cy="784.5" r="2.78"/><circle cx="445.5" cy="774.5" r="2.78"/><circle cx="455.5" cy="765.5" r="2.78"/><circle cx="464.5" cy="755.5" r="2.78"/><circle cx="474.5" cy="746.5" r="2.78"/><circle cx="483.5" cy="736.5" r="2.78"/><circle cx="492.5" cy="726.5" r="2.78"/><circle cx="502.5" cy="717.5" r="2.78"/><circle cx="511.5" cy="707.5" r="2.78"/><circle cx="520.5" cy="698.5" r="2.78"/><circle cx="530.5" cy="688.5" r="2.78"/><circle cx="539.5" cy="679.5" r="2.78"/><circle cx="548.5" cy="669.5" r="2.78"/><circle cx="558.5" cy="660.5" r="2.78"/><circle cx="567.5" cy="650.5" r="2.78"/></g>
<polyline points="108.59,1113.58 117.95,1105.96 127.3,1098.33 136.66,1090.71 146.02,1083.08 155.38,1075.46 164.73,1067.83 174.09,1060.21 183.45,1052.58 192.8,1044.96 202.16,1037.33 211.52,1029.71 220.87,1022.08 230.23,1014.45 239.59,1006.83 248.94,999.2 258.3,991.58 267.66,983.95 277.01,976.33 286.37,968.7 295.73,961.08 305.08,953.45 314.44,945.83 323.8,938.2 333.15,930.58 342.51,922.95 351.87,915.32 361.23,907.7 370.58,900.07 379.94,892.45 389.3,884.82 398.65,877.2 408.01,869.57 417.37,861.95 426.72,854.32 436.08,846.7 445.44,839.07 454.79,831.45 464.15,823.82 473.51,816.19 482.86,808.57 492.22,800.94 501.58,793.32 510.93,785.69 520.29,778.07 529.65,770.44 539.01,762.82 548.36,755.19 557.72,747.57 567.08,739.94" fill="none" stroke="#ff7f0e" stroke-width="3.47" stroke-linecap="round" stroke-linejoin="round"/>
<g fill="#ff7f0e"><rect x="106.8" y="1111.8" width="5.4" height="5.4"/><rect x="115.8" y="1103.8" width="5.4" height="5.4"/><rect x="124.8" y="1095.8" width="5.4" height="5.4"/><rect x="134.8" y="1088.8" width="5.4" height="5.4"/><rect x="143.8" y="1080.8" width="5.4" height="5.4"/><rect x="152.8" y="1072.8" width="5.4" height="5.4"/><rect x="162.8" y="1065.8" width="5.4" height="5.4"/><rect x="171.8" y="1057.8" width="5.4" height="5.4"/><rect x="180.8" y="1050.8" width="5.4" height="5.4"/><rect x="190.8" y="1042.8" width="5.4" height="5.4"/><rect x="199.8" y="1034.8" width="5.4" height="5.4"/><rect x="209.8" y="1027.8" width="5.4" height="5.4"/><rect x="218.8" y="1019.8" width="5.4" height="5.4"/><rect x="227.8" y="1011.8" width="5.4" height="5.4"/><rect x="237.8" y="1004.8" width="5.4" height="5.4"/><rect x="246.8" y="996.8" width="5.4" height="5.4"/><rect x="255.8" y="989.8" width="5.4" height="5.4"/><rect x="265.8" y="981.8" width="5.4" height="5.4"/><rect x="274.8" y="973.8" width="5.4" height="5.4"/><rect x="283.8" y="966.8" width="5.4" height="5.4"/><rect x="293.8" y="958.8" width="5.4" height="5.4"/><rect x="302.8" y="950.8" width="5.4" height="5.4"/><rect x="311.8" y="943.8" width="5.4" height="5.4"/><rect x="321.8" y="935.8" width="5.4" height="5.4"/><rect x="330.8" y="928.8" width="5.4" height="5.4"/><rect x="340.8" y="920.8" width="5.4" height="5.4"/><rect x="349.8" y="912.8" width="5.4" height="5.4"/><rect x="358.8" y="905.8" width="5.4" height="5.4"/><rect x="368.8" y="897.8" width="5.4" height="5.4"/><rect x="377.8" y="889.8" width="5.4" height="5.4"/><rect x="386.8" y="882.8" width="5.4" height="5.4"/><rect x="396.8" y="874.8" width="5.4" height="5.4"/><rect x="405.8" y="867.8" width="5.4" height="5.4"/><rect x="414.8" y="859.8" width="5.4" height="5.4"/><rect x="424.8" y="851.8" width="5.4" height="5.4"/><rect x="433.8" y="844.8" width="5.4" height="5.4"/><rect x="442.8" y="836.8" width="5.4" height="5.4"/><rect x="452.8" y="828.8" width="5.4" height="5.4"/><rect x="461.8" y="821.8" width="5.4" height="5.4"/><rect x="471.8" y="813.8" width="5.4" height="5.4"/><rect x="480.8" y="806.8" width="5.4" height="5.4"/><rect x="489.8" y="798.8" width="5.4" height="5.4"/><rect x="499.8" y="790.8" width="5.4" height="5.4"/><rect x="508.8" y="783.8" width="5.4" height="5.4"/><rect x="517.8" y="775.8" width="5.4" height="5.4"/><rect x="527.8" y="767.8" width="5.4" height="5.4"/><rect x="536.8" y="760.8" width="5.4" height="5.4"/><rect x="545.8" y="752.8" width="5.4" height="5.4"/><rect x="555.8" y="745.8" width="5.4" height="5.4"/><rect x="564.8" y="737.8" width="5.4" height="5.4"/></g>
<path d="M127 1141V627" stroke="#f00" stroke-opacity="0.5" stroke-width="2.08" stroke-dasharray="7.71 3.33" fill="none"/>
<g fill="#262626">
<text x="96" y="1156.44" font-size="13.89">0</text>
<text x="185 192.62" y="1156.44" font-size="13.89">10</text>
<text x="279 285.88" y="1156.44" font-size="13.89">20</text>
<text x="373 379.75" y="1156.44" font-size="13.89">30</text>
<text x="466 472.75" y="1156.44" font-size="13.89">40</text>
<text x="560 566.75" y="1156.44" font-size="13.89">50</text>
<text x="65 71.75" y="1132.26" font-size="13.89">$0</text>
<text x="38 44.75 52.62 56.38 64.12 71.88" y="1053.85" font-size="13.89">$2,000</text>
<text x="38 44.75 52.5 56.25 64 71.75" y="975.44" font-size="13.89">$4,000</text>
<text x="38 44.75 52.5 56.25 64 71.75" y="897.03" font-size="13.89">$6,000</text>
<text x="38 44.75 52.5 56.25 64 71.75" y="818.62" font-size="13.89">$8,000</text>
<text x="31 37.75 45.38 53.12 56.88 64.62 72.38" y="740.21" font-size="13.89">$10,000</text>
<text x="31 37.75 45.38 53.25 57 64.75 72.5" y="661.8" font-size="13.89">$12,000</text>
<text x="263 275 284.38 298.25 307.5 316.75 322.38 327 336.38 341 344.75 355.88 364.25 372.62 382 391.38 400.62 405.25" y="1177" font-size="16.67">Number of Accounts</text>
<text transform="translate(21 946) rotate(-90)" x="0 13.88 23.25 32.5 37.12 46.38 50.12 58.5 63.12 75.12 84.5 92.75 97.38 102 107.62 116.88" font-size="16.67">Monthly Cost ($)</text>
<text x="112 128 141.62 153.88 161.25 167.38 183.38 197 216.75 230.25 242.62 251.25 257.38 269.62 283.25 296.75 304.25 310.38 322.75 335.12 347.5 359.88 366 383.25 399.38 405.5 417.88 430.25 442.62 456.25 469.75 483.25 490.62 496.75 516.5 530.12 543.62 551" y="618.5" font-size="22.22" font-weight="bold">Cost Comparison: 1000 GB/account/month</text>
<text x="370 380 383.12 390 393.88 398.62 401.75 409.38 417.12 421 428.75 436.5 440.38 445.12 455.12 463.38 471.62 475.5 478.62 486.38 490.25 498 505.75 512.75 520.5 524.38 532.12 539.12 546.12 553.88 561.62 569.38 573.25" y="1104.14" font-size="13.89">Distributed (NAT in each account)</text>
<text x="370 380 387.75 395.5 399.38 404.12 411.88 415 418.12 425 432.75 440.5 444.38 449.12 457.62 468.5 481.62 485.5 493.5 497.38 506.62 514.38 522.12 526.88 534.62 542.38 546.25 556.25 564.5 573" y="1125.08" font-size="13.89">Centralized (TGW + Shared NAT)</text>
</g>
<path d="M331.5 1099.5H358.5" stroke="#1f77b4" stroke-width="3.47" stroke-linecap="round" fill="none"/>
<circle cx="345.5" cy="1099.5" r="2.78" fill="#1f77b4"/>
<path d="M331.5 1120.5H358.5" stroke="#ff7f0e" stroke-width="3.47" stroke-linecap="round" fill="none"/>
<rect x="342.8" y="1117.8" width="5.4" height="5.4" fill="#ff7f0e"/>
<rect x="91.62" y="650.18" width="71.38" height="33.3" rx="3.75" ry="3.75" fill="#f5deb3" fill-opacity="0.5" stroke="#000" stroke-opacity="0.5" stroke-width="1.39"/>
<text x="95 103.38 107.62 114.5 121.5 127.88 131.88 138.75 145 151.88" y="663" font-size="12.5" fill="#262626">Break-even</text>
<text x="97 103.88 107.38 114.38 120.62 126.88 133.75 140.62 147.62 151.25" y="677" font-size="12.5" fill="#262626">3 accounts</text>
</g>
<g>
<rect x="681" y="627" width="504" height="514" fill="#eaeaf2"/>
<path d="M694.5 627V1141M788.5 627V1141M881.5 627V1141M975.5 627V1141M1069.5 627V1141M1162.5 627V1141M681 1127.5H1185M681 1064.5H1185M681 1002.5H1185M681 939.5H1185M681 877.5H1185M681 814.5H1185M681 752.5H1185M681 689.5H1185" stroke="#fff" stroke-opacity="0.3" stroke-width="1.11" fill="none"/>
<polyline points="703.59,1117.23 712.95,1107.7 722.3,1098.17 731.66,1088.64 741.02,1079.1 750.38,1069.57 759.73,1060.04 769.09,1050.51 778.45,1040.98 787.8,1031.45 797.16,1021.92 806.52,1012.38 815.87,1002.85 825.23,993.32 834.59,983.79 843.94,974.26 853.3,964.73 862.66,955.19 872.01,945.66 881.37,936.13 890.73,926.6 900.08,917.07 909.44,907.54 918.8,898.01 928.15,888.47 937.51,878.94 946.87,869.41 956.23,859.88 965.58,850.35 974.94,840.82 984.3,831.28 993.65,821.75 1003.01,812.22 1012.37,802.69 1021.72,793.16 1031.08,783.63 1040.44,774.1 1049.79,764.56 1059.15,755.03 1068.51,745.5 1077.86,735.97 1087.22,726.44 1096.58,716.91 1105.93,707.37 1115.29,697.84 1124.65,688.31 1134.01,678.78 1143.36,669.25 1152.72,659.72 1162.08,650.19" fill="none" stroke="#1f77b4" stroke-width="3.47" stroke-linecap="round" stroke-linejoin="round"/>
<g fill="#1f77b4"><circle cx="704.5" cy="1117.5" r="2.78"/><circle cx="713.5" cy="1108.5" r="2.78"/><circle cx="722.5" cy="1098.5" r="2.78"/><circle cx="732.5" cy="1089.5" r="2.78"/><circle cx="741.5" cy="1079.5" r="2.78"/><circle cx="750.5" cy="1070.5" r="2.78"/><circle cx="760.5" cy="1060.5" r="2.78"/><circle cx="769.5" cy="1051.5" r="2.78"/><circle cx="778.5" cy="1041.5" r="2.78"/><circle cx="788.5" cy="1031.5" r="2.78"/><circle cx="797.5" cy="1022.5" r="2.78"/><circle cx="807.5" cy="1012.5" r="2.78"/><circle cx="816.5" cy="1003.5" r="2.78"/><circle cx="825.5" cy="993.5" r="2.78"/><circle cx="835.5" cy="984.5" r="2.78"/><circle cx="844.5" cy="974.5" r="2.78"/><circle cx="853.5" cy="965.5" r="2.78"/><circle cx="863.5" cy="955.5" r="2.78"/><circle cx="872.5" cy="946.5" r="2.78"/><circle cx="881.5" cy="936.5" r="2.78"/><circle cx="891.5" cy="927.5" r="2.78"/><circle cx="900.5" cy="917.5" r="2.78"/><circle cx="909.5" cy="908.5" r="2.78"/><circle cx="919.5" cy="898.5" r="2.78"/><circle cx="928.5" cy="888.5" r="2.78"/><circle cx="938.5" cy="879.5" r="2.78"/><circle cx="947.5" cy="869.5" r="2.78"/><circle cx="956.5" cy="860.5" r="2.78"/><circle cx="966.5" cy="850.5" r="2.78"/><circle cx="975.5" cy="841.5" r="2.78"/><circle cx="984.5" cy="831.5" r="2.78"/><circle cx="994.5" cy="822.5" r="2.78"/><circle cx="1003.5" cy="812.5" r="2.78"/><circle cx="1012.5" cy="803.5" r="2.78"/><circle cx="1022.5" cy="793.5" r="2.78"/><circle cx="1031.5" cy="784.5" r="2.78"/><circle cx="1040.5" cy="774.5" r="2.78"/><circle cx="1050.5" cy="765.5" r="2.78"/><circle cx="1059.5" cy="755.5" r="2.78"/><circle cx="1069.5" cy="746.5" r="2.78"/><circle cx="1078.5" cy="736.5" r="2.78"/><circle cx="1087.5" cy="726.5" r="2.78"/><circle cx="1097.5" cy="717.5" r="2.78"/><circle cx="1106.5" cy="707.5" r="2.78"/><circle cx="1115.5" cy="698.5" r="2.78"/><circle cx="1125.5" cy="688.5" r="2.78"/><circle cx="1134.5" cy="679.5" r="2.78"/><circle cx="1143.5" cy="669.5" r="2.78"/><circle cx="1153.5" cy="660.5" r="2.78"/><circle cx="1162.5" cy="650.5" r="2.78"/></g>
<polyline points="703.59,1114.41 712.95,1105.59 722.3,1096.77 731.66,1087.96 741.02,1079.14 750.38,1070.33 759.73,1061.51 769.09,1052.69 778.45,1043.88 787.8,1035.06 797.16,1026.25 806.52,1017.43 815.87,1008.62 825.23,999.8 834.59,990.98 843.94,982.17 853.3,973.35 862.66,964.54 872.01,955.72 881.37,946.91 890.73,938.09 900.08,929.27 909.44,920.46 918.8,911.64 928.15,902.83 937.51,894.01 946.87,885.19 956.23,876.38 965.58,867.56 974.94,858.75 984.3,849.93 993.65,841.12 1003.01,832.3 1012.37,823.48 1021.72,814.67 1031.08,805.85 1040.44,797.04 1049.79,788.22 1059.15,779.41 1068.51,770.59 1077.86,761.77 1087.22,752.96 1096.58,744.14 1105.93,735.33 1115.29,726.51 1124.65,717.7 1134.01,708.88 1143.36,700.06 1152.72,691.25 1162.08,682.43" fill="none" stroke="#ff7f0e" stroke-width="3.47" stroke-linecap="round" stroke-linejoin="round"/>
<g fill="#ff7f0e"><rect x="701.8" y="1111.8" width="5.4" height="5.4"/><rect x="710.8" y="1103.8" width="5.4" height="5.4"/><rect x="719.8" y="1094.8" width="5.4" height="5.4"/><rect x="729.8" y="1085.8" width="5.4" height="5.4"/><rect x="738.8" y="1076.8" width="5.4" height="5.4"/><rect x="747.8" y="1067.8" width="5.4" height="5.4"/><rect x="757.8" y="1059.8" width="5.4" height="5.4"/><rect x="766.8" y="1050.8" width="5.4" height="5.4"/><rect x="775.8" y="1041.8" width="5.4" height="5.4"/><rect x="785.8" y="1032.8" width="5.4" height="5.4"/><rect x="794.8" y="1023.8" width="5.4" height="5.4"/><rect x="804.8" y="1014.8" width="5.4" height="5.4"/><rect x="813.8" y="1006.8" width="5.4" height="5.4"/><rect x="822.8" y="997.8" width="5.4" height="5.4"/><rect x="832.8" y="988.8" width="5.4" height="5.4"/><rect x="841.8" y="979.8" width="5.4" height="5.4"/><rect x="850.8" y="970.8" width="5.4" height="5.4"/><rect x="860.8" y="962.8" width="5.4" height="5.4"/><rect x="869.8" y="953.8" width="5.4" height="5.4"/><rect x="878.8" y="944.8" width="5.4" height="5.4"/><rect x="888.8" y="935.8" width="5.4" height="5.4"/><rect x="897.8" y="926.8" width="5.4" height="5.4"/><rect x="906.8" y="917.8" width="5.4" height="5.4"/><rect x="916.8" y="909.8" width="5.4" height="5.4"/><rect x="925.8" y="900.8" width="5.4" height="5.4"/><rect x="935.8" y="891.8" width="5.4" height="5.4"/><rect x="944.8" y="882.8" width="5.4" height="5.4"/><rect x="953.8" y="873.8" width="5.4" height="5.4"/><rect x="963.8" y="865.8" width="5.4" height="5.4"/><rect x="972.8" y="856.8" width="5.4" height="5.4"/><rect x="981.8" y="847.8" width="5.4" height="5.4"/><rect x="991.8" y="838.8" width="5.4" height="5.4"/><rect x="1000.8" y="829.8" width="5.4" height="5.4"/><rect x="1009.8" y="820.8" width="5.4" height="5.4"/><rect x="1019.8" y="812.8" width="5.4" height="5.4"/><rect x="1028.8" y="803.8" width="5.4" height="5.4"/><rect x="1037.8" y="794.8" width="5.4" height="5.4"/><rect x="1047.8" y="785.8" width="5.4" height="5.4"/><rect x="1056.8" y="776.8" width="5.4" height="5.4"/><rect x="1066.8" y="768.8" width="5.4" height="5.4"/><rect x="1075.8" y="759.8" width="5.4" height="5.4"/><rect x="1084.8" y="750.8" width="5.4" height="5.4"/><rect x="1094.8" y="741.8" width="5.4" height="5.4"/><rect x="1103.8" y="732.8" width="5.4" height="5.4"/><rect x="1112.8" y="724.8" width="5.4" height="5.4"/><rect x="1122.8" y="715.8" width="5.4" height="5.4"/><rect x="1131.8" y="706.8" width="5.4" height="5.4"/><rect x="1140.8" y="697.8" width="5.4" height="5.4"/><rect x="1150.8" y="688.8" width="5.4" height="5.4"/><rect x="1159.8" y="679.8" width="5.4" height="5.4"/></g>
<path d="M741 1141V627" stroke="#f00" stroke-opacity="0.5" stroke-width="2.08" stroke-dasharray="7.71 3.33" fill="none"/>
<g fill="#262626">
<text x="691" y="1156.44" font-size="13.89">0</text>
<text x="780 787.62" y="1156.44" font-size="13.89">10</text>
<text x="874 880.88" y="1156.44" font-size="13.89">20</text>
<text x="968 974.75" y="1156.44" font-size="13.89">30</text>
<text x="1061 1067.75" y="1156.44" font-size="13.89">40</text>
<text x="1155 1161.75" y="1156.44" font-size="13.89">50</text>
<text x="660 666.75" y="1132.26" font-size="13.89">$0</text>
<text x="633 639.75 647.62 651.38 659.12 666.88" y="1069.74" font-size="13.89">$2,500</text>
<text x="633 639.75 647.5 651.25 659 666.75" y="1007.22" font-size="13.89">$5,000</text>
<text x="633 639.75 647.5 651.25 659 666.75" y="944.69" font-size="13.89">$7,500</text>
<text x="626 632.75 640.38 648.12 651.88 659.62 667.38" y="882.17" font-size="13.89">$10,000</text>
<text x="626 632.75 640.38 648.25 652 659.75 667.5" y="819.65" font-size="13.89">$12,500</text>
<text x="626 632.75 640.38 648.12 651.88 659.62 667.38" y="757.12" font-size="13.89">$15,000</text>
<text x="626 632.75 640.38 648.12 651.88 659.62 667.38" y="694.6" font-size="13.89">$17,500</text>
<text x="858 870 879.38 893.25 902.5 911.75 917.38 922 931.38 936 939.75 950.88 959.25 967.62 977 986.38 995.62 1000.25" y="1177" font-size="16.67">Number of Accounts</text>
<text transform="translate(616 946) rotate(-90)" x="0 13.88 23.25 32.5 37.12 46.38 50.12 58.5 63.12 75.12 84.5 92.75 97.38 102 107.62 116.88" font-size="16.67">Monthly Cost ($)</text>
<text x="707 723 736.62 748.88 756.25 762.38 778.38 792 811.75 825.25 837.62 846.25 852.38 864.62 878.25 891.75 899.25 905.38 917.75 930.12 942.5 954.88 961 978.25 994.38 1000.5 1012.88 1025.25 1037.62 1051.25 1064.75 1078.25 1085.62 1091.75 1111.5 1125.12 1138.62 1146" y="618.5" font-size="22.22" font-weight="bold">Cost Comparison: 2000 GB/account/month</text>
<text x="965 975 978.12 985 988.88 993.62 996.75 1004.38 1012.12 1016 1023.75 1031.5 1035.38 1040.12 1050.12 1058.38 1066.62 1070.5 1073.62 1081.38 1085.25 1093 1100.75 1107.75 1115.5 1119.38 1127.12 1134.12 1141.12 1148.88 1156.62 1164.38 1168.25" y="1104.14" font-size="13.89">Distributed (NAT in each account)</text>
<text x="965 975 982.75 990.5 994.38 999.12 1006.88 1010 1013.12 1020 1027.75 1035.5 1039.38 1044.12 1052.62 1063.5 1076.62 1080.5 1088.5 1092.38 1101.62 1109.38 1117.12 1121.88 1129.62 1137.38 1141.25 1151.25 1159.5 1168" y="1125.08" font-size="13.89">Centralized (TGW + Shared NAT)</text>
</g>
<path d="M926.5 1099.5H953.5" stroke="#1f77b4" stroke-width="3.47" stroke-linecap="round" fill="none"/>
<circle cx="940.5" cy="1099.5" r="2.78" fill="#1f77b4"/>
<path d="M926.5 1120.5H953.5" stroke="#ff7f0e" stroke-width="3.47" stroke-linecap="round" fill="none"/>
<rect x="937.8" y="1117.8" width="5.4" height="5.4" fill="#ff7f0e"/>
<rect x="705.33" y="650.18" width="71.38" height="33.3" rx="3.75" ry="3.75" fill="#f5deb3" fill-opacity="0.5" stroke="#000" stroke-opacity="0.5" stroke-width="1.39"/>
<text x="709 717.38 721.62 728.5 735.5 741.88 745.88 752.75 759 765.88" y="663" font-size="12.5" fill="#262626">Break-even</text>
<text x="711 717.88 721.38 728.38 734.62 740.88 747.75 754.62 761.62 765.25" y="677" font-size="12.5" fill="#262626">5 accounts</text>
</g>
</svg>
</body></html>
